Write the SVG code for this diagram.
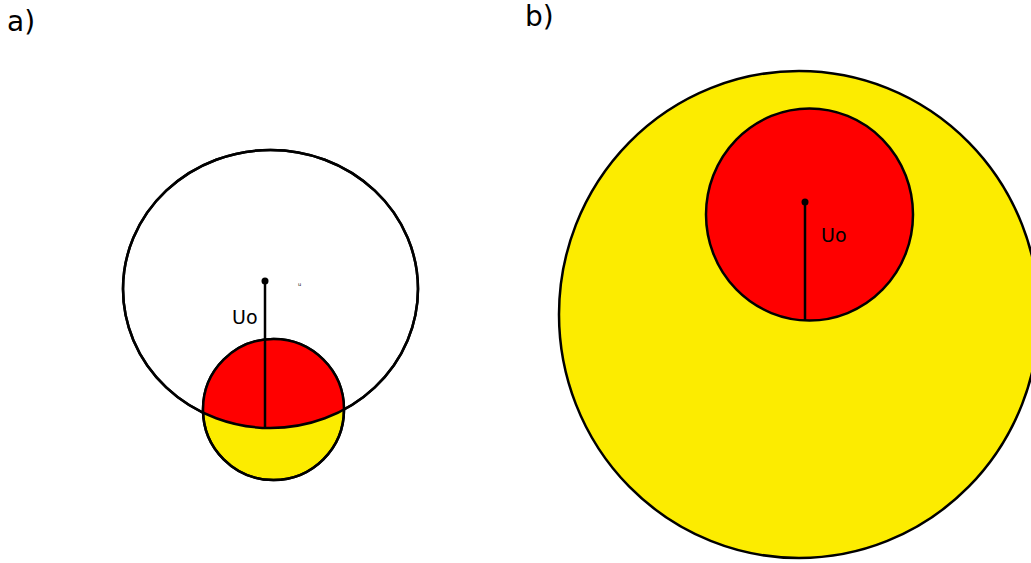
<svg xmlns="http://www.w3.org/2000/svg" width="1031" height="563" viewBox="0 0 1031 563">
<style>
.s{stroke:#000;stroke-width:2.5}
.t{font-family:"DejaVu Sans",sans-serif;fill:#000}
</style>
<defs>
<clipPath id="ce"><ellipse cx="270.5" cy="289" rx="147.5" ry="139"/></clipPath>
</defs>
<rect width="1031" height="563" fill="#fff"/>
<g id="label-a"><text class="t" x="7" y="31" font-size="28">a)</text></g>
<g id="label-b"><text class="t" x="525" y="26" font-size="28">b)</text></g>
<g id="a-outer"><ellipse cx="270.5" cy="289" rx="147.5" ry="139" fill="#fff" class="s"/></g>
<g id="a-inner">
<circle cx="273.5" cy="409.5" r="70.5" fill="#fcec00" class="s"/>
<circle cx="273.5" cy="409.5" r="70.5" fill="#ff0000" clip-path="url(#ce)"/>
<circle cx="273.5" cy="409.5" r="70.5" fill="none" class="s"/>
<ellipse cx="270.5" cy="289" rx="147.5" ry="139" fill="none" class="s"/>
</g>
<g id="b-outer"><ellipse cx="799" cy="314.5" rx="240" ry="243.5" fill="#fcec00" class="s"/></g>
<g id="b-inner"><ellipse cx="809.5" cy="214.5" rx="103.5" ry="106" fill="#ff0000" class="s"/></g>
<g id="connectors">
<line x1="265" y1="281" x2="265" y2="428" class="s"/>
<circle cx="265" cy="281" r="3.5" fill="#000"/>
<line x1="805" y1="202" x2="805" y2="321" class="s"/>
<circle cx="805" cy="202" r="3.5" fill="#000"/>
</g>
<g id="texts">
<text class="t" x="232" y="324" font-size="19">Uo</text>
<text class="t" x="298" y="286" font-size="5">u</text>
<text class="t" x="821" y="242" font-size="19">Uo</text>
</g>
</svg>
